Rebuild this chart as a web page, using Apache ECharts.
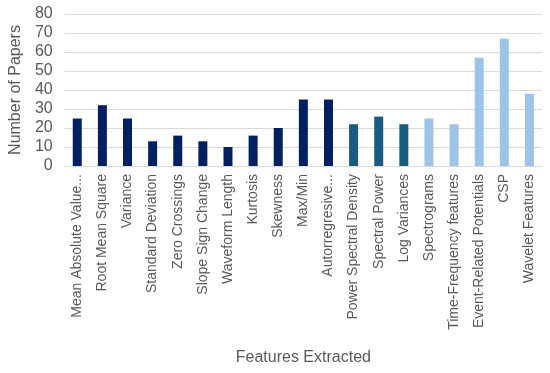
<!DOCTYPE html>
<html><head><meta charset="utf-8">
<script src="https://cdn.jsdelivr.net/npm/echarts@6/dist/echarts.min.js"></script>
<style>html,body{margin:0;padding:0;background:#fff}#c{width:550px;height:373px}</style>
</head><body><div id="c"></div>
<script>
const categories = ["Mean Absolute Value...","Root Mean Square","Variance","Standard Deviation","Zero Crossings","Slope Sign Change","Waveform Length","Kurtosis","Skewness","Max/Min","Autorregresive...","Power Spectral Density","Spectral Power","Log Variances","Spectrograms","Time-Frequency features","Event-Related Potentials","CSP","Wavelet Features"];
const values = [25,32,25,13,16,13,10,16,20,35,35,22,26,22,25,22,57,67,38];
const groups = [0,0,0,0,0,0,0,0,0,0,0,1,1,1,2,2,2,2,2];
const groupColors = ["#002060","#1a5c80","#9dc3e6"];
const yTicks = [0,10,20,30,40,50,60,70,80];

const chart = echarts.init(document.getElementById('c'));
const font = "'Liberation Sans', Arial, sans-serif";
chart.setOption({
  animation:false,
  grid:{left:60,right:8,top:14,bottom:207,containLabel:false},
  xAxis:{type:'category',data:categories,
    name:'Features Extracted',nameLocation:'middle',nameGap:184,
    nameTextStyle:{color:'#595959',fontSize:16,fontFamily:font},
    axisLine:{lineStyle:{color:'#d9d9d9'}},axisTick:{show:false},
    axisLabel:{rotate:90,interval:0,color:'#595959',fontSize:14,fontFamily:font,margin:8}},
  yAxis:{type:'value',min:0,max:80,interval:10,
    name:'Number of Papers',nameLocation:'middle',nameGap:39,
    nameTextStyle:{color:'#595959',fontSize:16,fontFamily:font},
    axisLabel:{color:'#595959',fontSize:16,fontFamily:font,margin:12},
    splitLine:{lineStyle:{color:'#d9d9d9'}}},
  series:[{type:'bar',barWidth:9,
    data:values.map((v,i)=>({value:v,itemStyle:{color:groupColors[groups[i]]}}))}]
});
</script></body></html>
